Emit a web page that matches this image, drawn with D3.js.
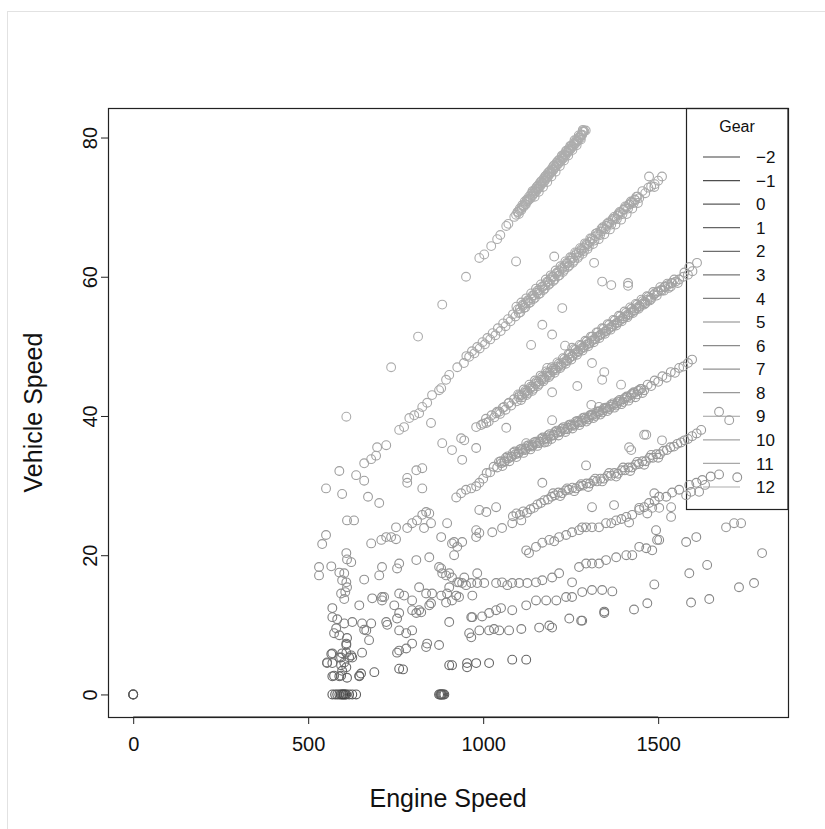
<!DOCTYPE html>
<html>
<head>
<meta charset="utf-8">
<script src="https://cdn.jsdelivr.net/npm/d3@7"></script>
<style>
  body { margin: 0; background: #fff; }
  text { font-family: "Liberation Sans", Arial, sans-serif; fill: #111; }
</style>
</head>
<body>
<div id="chart"></div>
<script>
// gear levels shown in the legend
const gearLevels = [-2, -1, 0, 1, 2, 3, 4, 5, 6, 7, 8, 9, 10, 11, 12];
const xTicks = [0, 500, 1000, 1500];
const yTicks = [0, 20, 40, 60, 80];

// [engine speed, vehicle speed] per gear
const gearM2 = [[600, 0]];
const gearM1 = [[594, 0], [606, 0]];
const gear0 = [[0, 0], [0, 0], [0, 0], [569, 0], [577, 0], [583, 0], [589, 0], [597, 0], [603, 0], [609, 0], [617, 0], [626, 0], [637, 0],
  [874, 0], [877, 0], [880, 0], [883, 0], [886, 0], [889, 0], [880, 0]];
const gear1 = [[569, 2.6], [589, 2.6], [611, 2.4], [646, 2.6], [646, 2.7], [651, 3.0], [689, 3.2], [597, 3.4], [574, 2.7], [594, 2.7],
  [771, 3.6], [760, 3.7], [903, 4.2], [911, 4.2], [954, 4.5], [954, 3.9], [980, 4.5], [1017, 4.5], [1083, 5.0], [1123, 5.0]];
const gear2 = [[609, 6.0], [609, 7.3], [611, 8.1], [609, 7.1], [566, 5.8], [554, 4.5], [569, 4.5], [589, 5.3], [597, 5.9], [617, 5.3],
  [626, 5.3], [594, 4.2], [609, 3.9], [603, 4.6]];
const gear3 = [[554, 4.6], [569, 5.9], [594, 5.3], [623, 5.6], [654, 6.0], [754, 6.0], [1346, 11.9], [1346, 11.7]];
const gear4 = [[760, 6.3], [780, 6.6], [797, 7.3], [837, 6.8], [840, 7.3], [874, 7.1], [674, 7.8], [760, 9.2], [780, 8.8], [797, 9.2],
  [903, 10.4], [960, 8.8], [966, 8.2], [989, 9.2], [1017, 9.2], [1031, 9.4], [1046, 9.2], [1074, 9.2], [1109, 9.4], [1160, 9.6],
  [1189, 9.9], [1197, 9.6], [1246, 10.9], [1280, 10.6], [1283, 10.6], [966, 11.1], [569, 12.4], [569, 11.1], [583, 10.8], [603, 10.2],
  [626, 10.4], [580, 9.5], [574, 8.8], [589, 8.5], [660, 9.3], [666, 9.2], [680, 10.2], [723, 10.4], [726, 10.0], [754, 10.9], [654, 10.2]];
const gear5 = [[969, 11.1], [997, 11.2], [1017, 11.7], [1037, 12.1], [1051, 12.4], [1083, 12.1], [1123, 12.8], [1151, 13.5], [1180, 13.5],
  [1209, 13.5], [1237, 14.0], [1254, 14.0], [1283, 14.7], [1311, 15.0], [1340, 15.0], [1369, 14.8], [760, 11.7], [797, 12.1], [817, 12.1],
  [846, 12.8], [809, 11.7], [823, 11.8], [851, 13.1], [894, 13.2], [923, 14.2], [746, 12.8], [683, 13.8], [711, 14.0], [646, 12.8],
  [1594, 13.2], [1646, 13.7], [1469, 13.1], [1431, 12.2]];
const gear6 = [[903, 15.4], [931, 16.1], [951, 15.7], [966, 16.0], [983, 16.0], [1003, 16.0], [1037, 16.0], [1054, 16.1], [1069, 15.7],
  [1083, 16.0], [1103, 16.0], [1126, 16.0], [1151, 16.1], [1169, 16.4], [1197, 16.8], [1217, 17.4], [1254, 16.1], [1274, 18.3], [1294, 18.8],
  [1311, 18.8], [1331, 18.8], [1351, 19.3], [1380, 19.7], [1409, 20.0], [1426, 20.0], [1446, 21.2], [1466, 21.0], [1483, 20.7], [1503, 22.2],
  [760, 14.5], [797, 13.5], [817, 15.4], [837, 14.5], [854, 14.5], [880, 14.2], [897, 14.5], [911, 13.5], [931, 14.0], [969, 14.2],
  [774, 14.2], [1489, 15.8], [1731, 15.4], [1774, 16.0], [1589, 17.4], [1640, 18.6], [1580, 21.9], [1609, 22.6], [1497, 22.2], [1494, 23.6]];
const gear7 = [[1123, 20.7], [1131, 20.3], [1151, 21.2], [1169, 21.8], [1189, 22.2], [1203, 22.0], [1217, 22.6], [1237, 22.9], [1254, 23.3],
  [1274, 23.6], [1283, 24.0], [1294, 24.0], [1311, 24.0], [1331, 24.0], [1351, 24.6], [1366, 24.6], [1380, 25.0], [1395, 25.2], [1409, 25.5],
  [1426, 25.8], [1446, 26.5], [1460, 26.9], [1474, 27.5], [1490, 27.8], [1503, 28.4], [1523, 28.4], [1540, 29.0], [1560, 29.4], [1589, 30.1],
  [1609, 30.4], [1626, 30.8], [1650, 31.3], [1674, 31.6], [1726, 31.2],
  [880, 22.6], [917, 21.9], [926, 21.2], [917, 20.0], [940, 21.9], [911, 21.7], [980, 22.6], [760, 18.8], [809, 19.3], [846, 19.7],
  [874, 18.3], [903, 17.4], [911, 16.8], [926, 16.1], [940, 16.0], [883, 17.4], [880, 18.1], [894, 17.1], [946, 16.8], [983, 17.4],
  [531, 18.3], [531, 17.1], [566, 18.4], [589, 17.5], [609, 20.3], [611, 19.4], [623, 19.0], [603, 17.4], [597, 16.4], [609, 16.1],
  [611, 15.4], [606, 14.7], [594, 14.5], [603, 13.7], [660, 16.5], [711, 18.3], [703, 17.1], [754, 18.1], [717, 14.0], [711, 13.5],
  [1797, 20.3]];
const gear8 = [[1085, 25.6], [1095, 26.0], [1105, 25.8], [1115, 26.3], [1125, 26.1], [1135, 26.6], [1145, 26.8], [1155, 27.3], [1165, 27.5],
  [1175, 27.9], [1185, 28.0], [1195, 28.4], [1205, 28.6], [1215, 29.0], [1225, 28.9], [1235, 29.3], [1245, 29.4], [1255, 29.7], [1265, 29.6],
  [1275, 29.9], [1285, 30.0], [1295, 30.3], [1305, 30.3], [1315, 30.7], [1325, 30.6], [1335, 31.0], [1345, 31.0], [1355, 31.4], [1365, 31.4],
  [1375, 31.8], [1385, 31.7], [1395, 32.2], [1405, 32.2], [1415, 32.6], [1425, 32.6], [1435, 33.0], [1445, 33.1], [1455, 33.5], [1465, 33.5],
  [1475, 34.0], [1485, 34.0], [1495, 34.5], [1505, 34.5], [1515, 35.0], [1525, 35.1], [1535, 35.5], [1545, 35.6], [1555, 36.0], [1565, 36.2],
  [1575, 36.5], [1585, 36.7], [1597, 37.1], [1610, 37.5], [1623, 38.0],
  [1200, 28.9], [1220, 28.5], [1240, 29.6], [1260, 29.2], [1280, 30.2], [1300, 29.8], [1320, 31.0], [1340, 30.6], [1360, 31.8], [1380, 31.3],
  [1400, 32.6], [1420, 32.1], [1440, 33.4], [1460, 33.0], [1480, 34.4], [1500, 34.0],
  [980, 23.6], [989, 23.2], [1026, 23.3], [1054, 23.9], [1083, 24.6], [1109, 25.0], [989, 26.5], [1009, 26.2], [1037, 26.9], [1169, 30.4],
  [1294, 32.9], [1489, 28.9], [1374, 27.2], [1311, 26.9], [1446, 26.8], [1469, 26.0], [1483, 26.8], [1503, 26.8], [1537, 26.9], [1537, 25.5],
  [1417, 24.7], [1580, 28.6], [1594, 29.1], [1617, 29.1], [1634, 30.1],
  [783, 23.9], [797, 24.6], [811, 25.0], [826, 25.8], [837, 26.2], [846, 26.0], [851, 24.6], [831, 23.9], [897, 24.6],
  [611, 25.0], [631, 25.0], [751, 24.0], [551, 22.9], [540, 21.6], [680, 21.7], [709, 22.2], [723, 22.6], [737, 22.6], [751, 22.3],
  [1694, 24.0], [1717, 24.6], [1737, 24.6]];
const gear9 = [[1000, 31.0], [1010, 31.8], [1020, 31.9], [1030, 32.7], [1040, 32.6], [1050, 33.5], [1060, 33.4], [1070, 34.2], [1080, 34.1],
  [1090, 34.9], [1100, 34.6], [1110, 35.3], [1120, 35.1], [1130, 35.8], [1140, 35.6], [1150, 36.3], [1160, 36.1], [1170, 36.9], [1180, 36.6],
  [1190, 37.4], [1200, 37.2], [1210, 37.9], [1220, 37.7], [1230, 38.4], [1240, 38.1], [1250, 38.8], [1260, 38.6], [1270, 39.3], [1280, 39.1],
  [1290, 39.8], [1300, 39.5], [1310, 40.2], [1320, 40.0], [1330, 40.7], [1340, 40.5], [1350, 41.2], [1360, 41.0], [1370, 41.8], [1380, 41.5],
  [1390, 42.3], [1400, 42.0], [1410, 42.8], [1420, 42.6], [1430, 43.4], [1440, 43.1], [1450, 43.9], [1460, 43.7], [1470, 44.5], [1480, 44.3],
  [1490, 45.1], [1500, 44.9], [1512, 45.7], [1524, 45.5], [1536, 46.3], [1548, 46.2], [1560, 46.9], [1572, 47.1], [1585, 47.6], [1597, 48.1],
  [1045, 33.4], [1055, 32.8], [1065, 34.0], [1075, 33.5], [1085, 34.7], [1095, 34.1], [1105, 35.2], [1115, 34.7], [1125, 35.7], [1135, 35.2],
  [1145, 36.2], [1155, 35.7], [1165, 36.7], [1175, 36.2], [1185, 37.2], [1195, 36.7], [1205, 37.7], [1215, 37.2], [1225, 38.2], [1235, 37.7],
  [1245, 38.7], [1255, 38.2], [1265, 39.2], [1275, 38.7], [1285, 39.7], [1295, 39.2], [1305, 40.1], [1315, 39.7], [1325, 40.6], [1335, 40.2],
  [1345, 41.1], [1355, 40.7], [1365, 41.6], [1375, 41.2], [1385, 42.1], [1395, 41.7], [1405, 42.6], [1415, 42.2], [1425, 43.2], [1435, 42.7],
  [1445, 43.7], [1455, 43.3],
  [1052, 33.2], [1062, 33.5], [1072, 33.9], [1082, 34.2], [1092, 34.5], [1102, 34.8], [1112, 35.1], [1122, 35.3], [1132, 35.6], [1142, 35.8],
  [1152, 36.1], [1162, 36.3], [1172, 36.6], [1182, 36.8], [1192, 37.1], [1202, 37.3], [1212, 37.6], [1222, 37.8], [1232, 38.1], [1242, 38.3],
  [1252, 38.6], [1262, 38.8], [1272, 39.1], [1282, 39.3], [1292, 39.6], [1302, 39.8], [1312, 40.1], [1322, 40.3], [1332, 40.6], [1342, 40.8],
  [1352, 41.1], [1362, 41.3], [1372, 41.6], [1382, 41.8], [1392, 42.1], [1402, 42.4], [1412, 42.7], [1422, 43.0], [1432, 43.3], [1442, 43.6],
  [1452, 43.9],
  [923, 28.3], [937, 28.9], [951, 29.4], [966, 29.6], [980, 29.9], [989, 30.4],
  [783, 31.1], [783, 30.4], [809, 32.2], [826, 32.5], [826, 29.6], [940, 33.7], [980, 35.4],
  [589, 32.1], [637, 31.5], [660, 30.7], [551, 29.6], [597, 28.8], [671, 28.4], [703, 27.5], [1674, 40.6], [1703, 39.4]];
const gear10 = [[1000, 38.9], [1008, 39.6], [1016, 39.2], [1024, 40.1], [1032, 39.8], [1040, 40.6], [1048, 40.3], [1056, 41.2], [1064, 40.9],
  [1072, 41.8], [1080, 41.5], [1088, 42.4], [1096, 42.1], [1104, 43.0], [1112, 42.7], [1120, 43.6], [1128, 43.3], [1136, 44.2], [1144, 43.9],
  [1152, 44.9], [1160, 44.6], [1168, 45.6], [1176, 45.3], [1184, 46.2], [1192, 45.9], [1200, 46.8], [1208, 46.6], [1216, 47.5], [1224, 47.2],
  [1232, 48.2], [1240, 47.9], [1248, 48.9], [1256, 48.6], [1264, 49.5], [1272, 49.2], [1280, 50.1], [1288, 49.8], [1296, 50.7], [1304, 50.4],
  [1312, 51.4], [1320, 51.0], [1328, 52.0], [1336, 51.7], [1344, 52.5], [1352, 52.2], [1360, 53.1], [1368, 52.8], [1376, 53.7], [1384, 53.4],
  [1392, 54.3], [1400, 54.0], [1408, 54.8], [1416, 54.5], [1424, 55.4], [1432, 55.1], [1440, 56.0], [1448, 55.7], [1456, 56.5], [1464, 56.2],
  [1472, 57.1], [1480, 56.8], [1490, 57.6], [1500, 57.9], [1510, 58.0], [1520, 58.6], [1530, 58.4], [1540, 59.1], [1550, 59.3], [1560, 59.6],
  [1572, 60.0], [1585, 60.3], [1598, 60.8], [1611, 62.0], [1589, 61.4], [1575, 60.6],
  [1100, 43.1], [1108, 42.3], [1116, 43.8], [1124, 43.0], [1132, 44.5], [1140, 43.6], [1148, 45.1], [1156, 44.3], [1164, 45.8], [1172, 45.0],
  [1180, 46.4], [1188, 45.6], [1196, 47.0], [1204, 46.2], [1212, 47.7], [1220, 46.9], [1228, 48.3], [1236, 47.5], [1244, 48.9], [1252, 48.1],
  [1260, 49.6], [1268, 48.8], [1276, 50.2], [1284, 49.4], [1292, 50.8], [1300, 50.0], [1308, 51.4], [1316, 50.6], [1324, 52.0], [1332, 51.2],
  [1340, 52.6], [1348, 51.8], [1356, 53.2], [1364, 52.4], [1372, 53.8], [1380, 53.0], [1388, 54.4], [1396, 53.6], [1404, 55.0], [1412, 54.2],
  [1420, 55.6], [1428, 54.8], [1436, 56.1], [1444, 55.4], [1452, 56.7], [1460, 56.0], [1468, 57.2], [1476, 56.6], [1486, 57.8], [1496, 57.3],
  [1506, 58.5], [1516, 58.0], [1526, 59.0], [1536, 58.6], [1546, 59.6], [1556, 59.1],
  [1102, 42.7], [1110, 43.0], [1118, 43.3], [1126, 43.6], [1134, 43.9], [1142, 44.2], [1150, 44.6], [1158, 44.9], [1166, 45.2], [1174, 45.5],
  [1182, 45.8], [1190, 46.2], [1198, 46.5], [1206, 46.8], [1214, 47.1], [1222, 47.4], [1230, 47.7], [1238, 48.0], [1246, 48.3], [1254, 48.6],
  [1262, 49.0], [1270, 49.3], [1278, 49.6], [1286, 49.9], [1294, 50.2], [1302, 50.5], [1310, 50.8], [1318, 51.1], [1326, 51.4], [1334, 51.6],
  [1342, 51.9], [1350, 52.2], [1358, 52.5], [1366, 52.8], [1374, 53.1], [1382, 53.4], [1390, 53.7], [1398, 54.0], [1406, 54.3], [1414, 54.6],
  [1422, 54.9], [1430, 55.2], [1438, 55.5], [1446, 55.8], [1454, 56.1], [1462, 56.4], [1470, 56.7], [1478, 57.0], [1488, 57.4], [1498, 57.8],
  [1508, 58.1], [1518, 58.5], [1528, 58.8], [1538, 59.1],
  [994, 38.7], [1009, 39.0], [1037, 40.4], [1046, 40.6], [1060, 41.3], [1074, 41.9], [980, 38.4],
  [1066, 38.3], [1197, 39.4], [1309, 41.6], [1331, 41.3], [1123, 36.1], [1140, 35.8], [1183, 36.3], [1417, 35.5], [1423, 35.1],
  [1460, 37.3], [1466, 37.3], [1511, 36.5], [937, 36.8], [946, 36.5], [851, 39.0], [883, 36.1], [911, 35.1],
  [723, 35.8], [697, 35.5], [694, 34.3], [680, 33.8], [660, 33.2]];
const gear11 = [[760, 38.0], [774, 38.4], [789, 39.7], [803, 40.1], [817, 40.4], [826, 41.3], [840, 41.9], [854, 43.0], [874, 43.7],
  [880, 44.0], [894, 45.2], [903, 45.9], [926, 47.0],
  [945, 47.6], [952, 48.6], [960, 48.5], [968, 49.3], [975, 49.0], [983, 49.9], [990, 49.7], [998, 50.6], [1005, 50.3], [1012, 51.2],
  [1020, 51.0], [1027, 51.9], [1035, 51.6], [1042, 52.6], [1050, 52.2], [1057, 53.3], [1064, 52.9], [1071, 53.9], [1078, 53.6], [1085, 54.6],
  [1092, 54.3], [1099, 55.3], [1106, 54.9], [1113, 56.0], [1120, 55.6], [1127, 56.6], [1134, 56.3], [1141, 57.3], [1148, 57.0], [1155, 58.0],
  [1162, 57.6], [1169, 58.6], [1176, 58.3], [1183, 59.3], [1190, 59.0], [1197, 60.0], [1204, 59.6], [1211, 60.6], [1218, 60.2], [1225, 61.3],
  [1232, 61.0], [1239, 62.0], [1246, 61.6], [1253, 62.7], [1260, 62.3], [1267, 63.4], [1274, 63.0], [1281, 64.0], [1288, 63.7], [1295, 64.7],
  [1302, 64.4], [1310, 65.5], [1318, 65.2], [1326, 66.3], [1334, 66.0], [1342, 67.1], [1350, 66.8], [1358, 67.8], [1366, 67.5], [1374, 68.6],
  [1382, 68.3], [1390, 69.3], [1398, 69.0], [1406, 70.1], [1414, 69.8], [1422, 70.8], [1430, 70.6], [1438, 71.5], [1446, 71.3], [1455, 72.3],
  [1463, 72.0], [1472, 72.8], [1480, 73.0], [1490, 73.3], [1500, 73.8], [1474, 74.4], [1511, 74.4], [1489, 72.9],
  [1095, 55.7], [1102, 54.8], [1109, 56.3], [1116, 55.5], [1123, 56.9], [1130, 56.2], [1137, 57.6], [1144, 56.8], [1151, 58.3], [1158, 57.5],
  [1165, 58.9], [1172, 58.1], [1179, 59.6], [1186, 58.8], [1193, 60.2], [1200, 59.4], [1207, 60.9], [1214, 60.1], [1221, 61.5], [1228, 60.7],
  [1235, 62.2], [1242, 61.4], [1249, 62.8], [1256, 62.0], [1263, 63.5], [1270, 62.7], [1277, 64.1], [1284, 63.3], [1291, 64.8], [1298, 64.0],
  [1306, 65.5], [1314, 64.7], [1322, 66.2], [1330, 65.4], [1338, 66.9], [1346, 66.1], [1354, 67.6], [1362, 66.8], [1370, 68.3], [1378, 67.5],
  [1386, 69.0], [1394, 68.2], [1402, 69.7], [1410, 69.0], [1418, 70.4], [1426, 69.8], [1434, 71.0], [1442, 70.6],
  [1105, 55.4], [1113, 55.8], [1121, 56.2], [1129, 56.5], [1137, 56.9], [1145, 57.3], [1153, 57.7], [1161, 58.1], [1169, 58.5], [1177, 58.8],
  [1185, 59.2], [1193, 59.6], [1201, 60.0], [1209, 60.4], [1217, 60.8], [1225, 61.1], [1233, 61.5], [1241, 61.9], [1249, 62.3], [1257, 62.7],
  [1265, 63.1], [1273, 63.5], [1281, 63.8], [1289, 64.2], [1297, 64.6], [1305, 65.0], [1313, 65.4], [1321, 65.8], [1329, 66.1], [1337, 66.5],
  [1345, 66.9], [1353, 67.3], [1361, 67.7], [1369, 68.1], [1377, 68.4], [1385, 68.8], [1393, 69.2], [1401, 69.6], [1409, 70.0], [1417, 70.4],
  [1425, 70.7], [1433, 71.1], [1441, 71.5],
  [1094, 62.2], [1203, 62.9], [1317, 62.0], [1340, 59.3], [1366, 58.8], [1414, 59.1], [1414, 58.7], [1226, 55.5], [1169, 53.1], [1197, 51.7],
  [1137, 50.2], [1234, 50.1], [1254, 49.8], [1311, 47.6], [1346, 46.3], [1340, 45.2], [1394, 44.5], [1269, 44.3], [1183, 46.9], [1197, 43.4]];
const gear12 = [[609, 39.9], [737, 47.0], [814, 51.4], [883, 56.0], [951, 60.0], [989, 62.7], [1003, 63.2], [1023, 64.4], [1040, 65.4],
  [1049, 66.0], [1066, 67.3], [1072, 67.6], [1089, 68.6], [1094, 68.9],
  [1098, 69.3], [1102, 69.0], [1105, 69.8], [1109, 69.6], [1112, 70.3], [1116, 70.1], [1119, 70.8], [1122, 70.4], [1125, 71.1], [1128, 70.9],
  [1131, 71.5], [1134, 71.2], [1137, 71.9], [1140, 71.6], [1143, 72.2], [1146, 72.0], [1149, 72.6], [1152, 72.3], [1155, 73.0], [1158, 72.7],
  [1161, 73.4], [1164, 73.1], [1167, 73.7], [1170, 73.5], [1173, 74.1], [1176, 73.8], [1179, 74.5], [1182, 74.2], [1185, 74.9], [1188, 74.6],
  [1191, 75.2], [1194, 75.0], [1197, 75.6], [1200, 75.4], [1203, 76.0], [1207, 75.8], [1210, 76.4], [1214, 76.2], [1217, 76.8], [1221, 76.6],
  [1224, 77.2], [1228, 77.0], [1231, 77.6], [1235, 77.4], [1238, 78.0], [1242, 77.9], [1245, 78.4], [1249, 78.3], [1252, 78.8], [1256, 78.7],
  [1259, 79.2], [1263, 79.1], [1266, 79.6], [1270, 79.5], [1273, 80.0], [1277, 79.9], [1280, 80.4], [1283, 80.4], [1286, 80.8], [1289, 80.9],
  [1293, 81.0], [1285, 81.1],
  [1141, 72.3], [1147, 71.5], [1153, 72.9], [1159, 72.2], [1165, 73.7], [1171, 72.9], [1177, 74.4], [1183, 73.6], [1189, 75.1], [1195, 74.4],
  [1201, 75.9], [1207, 75.1], [1213, 76.6], [1219, 75.9], [1225, 77.4], [1231, 76.7], [1237, 78.1], [1243, 77.4], [1249, 78.8], [1255, 78.2],
  [1261, 79.6], [1267, 78.9], [1273, 80.3], [1279, 79.7], [1284, 80.9],
  [1100, 69.3], [1105, 69.5], [1110, 69.9], [1115, 70.2], [1120, 70.4], [1125, 70.8], [1130, 71.1], [1135, 71.4], [1140, 71.7], [1145, 72.0],
  [1150, 72.3], [1155, 72.6], [1160, 72.9], [1165, 73.2], [1170, 73.5], [1175, 73.8], [1180, 74.2], [1185, 74.4], [1190, 74.8], [1195, 75.1],
  [1200, 75.3], [1205, 75.7], [1210, 76.0], [1215, 76.3], [1220, 76.6], [1225, 76.9], [1230, 77.2], [1235, 77.5], [1240, 77.8], [1245, 78.1],
  [1250, 78.4], [1255, 78.7], [1260, 79.0], [1265, 79.4], [1270, 79.6], [1275, 80.0], [1280, 80.3]];

const gearPoints = [gearM2, gearM1, gear0, gear1, gear2, gear3, gear4, gear5, gear6, gear7, gear8, gear9, gear10, gear11, gear12];

// flat table for drawing
const points = [];
gearLevels.forEach((g, i) => {
  gearPoints[i].forEach(([rpm, speed]) => points.push({ gear: g, rpm, speed }));
});

// grey ramp like R's gray.colors
function grayOf(g) {
  const i = gearLevels.indexOf(g);
  const s = Math.pow(0.25, 2.2), e = Math.pow(0.68, 2.2);
  const v = Math.pow(s + (e - s) * i / (gearLevels.length - 1), 1 / 2.2);
  const c = Math.round(v * 255);
  return d3.rgb(c, c, c).formatHex();
}

const width = 825, height = 829;
const area = { left: 108, right: 788, top: 108, bottom: 717 };
const font = '"Liberation Sans", Arial, sans-serif';

const svg = d3.select('#chart').append('svg')
  .attr('width', width)
  .attr('height', height);

// faint outer frame
svg.append('rect')
  .attr('x', 7.5).attr('y', 11.5)
  .attr('width', 900).attr('height', 900)
  .attr('fill', 'none')
  .attr('stroke', '#e2e2e2');

const xScale = d3.scaleLinear().domain([-72, 1871]).range([area.left, area.right]);
const yScale = d3.scaleLinear().domain([-3.24, 84.24]).range([area.bottom, area.top]);

// legend (drawn first, points go over it)
const legend = svg.append('g').attr('class', 'legend');
legend.append('rect')
  .attr('x', 686.5).attr('y', area.top + 0.5)
  .attr('width', 101.5).attr('height', 401)
  .attr('fill', 'none')
  .attr('stroke', '#222')
  .attr('stroke-width', 1.2);
legend.append('text')
  .attr('x', 737).attr('y', 126)
  .attr('dy', '0.35em')
  .attr('text-anchor', 'middle')
  .style('font-size', '16px')
  .text('Gear');
const entries = legend.selectAll('g.entry')
  .data(gearLevels)
  .join('g')
  .attr('class', 'entry')
  .attr('transform', (d, i) => `translate(0, ${157 + i * 23.57})`);
entries.append('line')
  .attr('x1', 703).attr('x2', 740)
  .attr('stroke', d => grayOf(d))
  .attr('stroke-width', 1.2);
entries.append('text')
  .attr('x', 756)
  .attr('dy', '0.36em')
  .style('font-size', '17px')
  .text(d => d < 0 ? '\u2212' + Math.abs(d) : d);

// points, high gears first so the dark ones end up on top
const dots = svg.append('g').attr('class', 'dots');
dots.selectAll('circle')
  .data(points.slice().sort((a, b) => b.gear - a.gear))
  .join('circle')
  .attr('cx', d => xScale(d.rpm))
  .attr('cy', d => yScale(d.speed))
  .attr('r', 4.4)
  .attr('fill', 'none')
  .attr('stroke', d => grayOf(d.gear))
  .attr('stroke-width', 1.1);

// box
svg.append('rect')
  .attr('x', area.left + 0.5).attr('y', area.top + 0.5)
  .attr('width', area.right - area.left).attr('height', area.bottom - area.top)
  .attr('fill', 'none')
  .attr('stroke', '#222')
  .attr('stroke-width', 1.2);

// axes
const xAxis = svg.append('g')
  .attr('transform', `translate(0, ${area.bottom})`)
  .call(d3.axisBottom(xScale).tickValues(xTicks).tickFormat(d3.format('d')).tickSize(7).tickPadding(13));
xAxis.select('.domain').remove();
xAxis.append('line')
  .attr('x1', xScale(xTicks[0])).attr('x2', xScale(xTicks[xTicks.length - 1]))
  .attr('stroke', '#222');
xAxis.selectAll('.tick line').attr('stroke', '#222');
xAxis.selectAll('.tick text')
  .style('font-size', '20px')
  .style('font-family', font)
  .attr('fill', '#111');

const yAxis = svg.append('g')
  .attr('transform', `translate(${area.left}, 0)`)
  .call(d3.axisLeft(yScale).tickValues(yTicks).tickSize(7));
yAxis.select('.domain').remove();
yAxis.selectAll('.tick line').attr('stroke', '#222');
yAxis.selectAll('.tick text')
  .attr('x', null).attr('dy', null)
  .attr('transform', 'translate(-11, 0) rotate(-90)')
  .attr('text-anchor', 'middle')
  .style('font-size', '20px')
  .style('font-family', font)
  .attr('fill', '#111');

// axis titles
svg.append('text')
  .attr('x', (area.left + area.right) / 2)
  .attr('y', 807)
  .attr('text-anchor', 'middle')
  .style('font-size', '25px')
  .text('Engine Speed');
svg.append('text')
  .attr('transform', `translate(42, ${(area.top + area.bottom) / 2}) rotate(-90)`)
  .attr('text-anchor', 'middle')
  .style('font-size', '25px')
  .text('Vehicle Speed');
</script>
</body>
</html>
